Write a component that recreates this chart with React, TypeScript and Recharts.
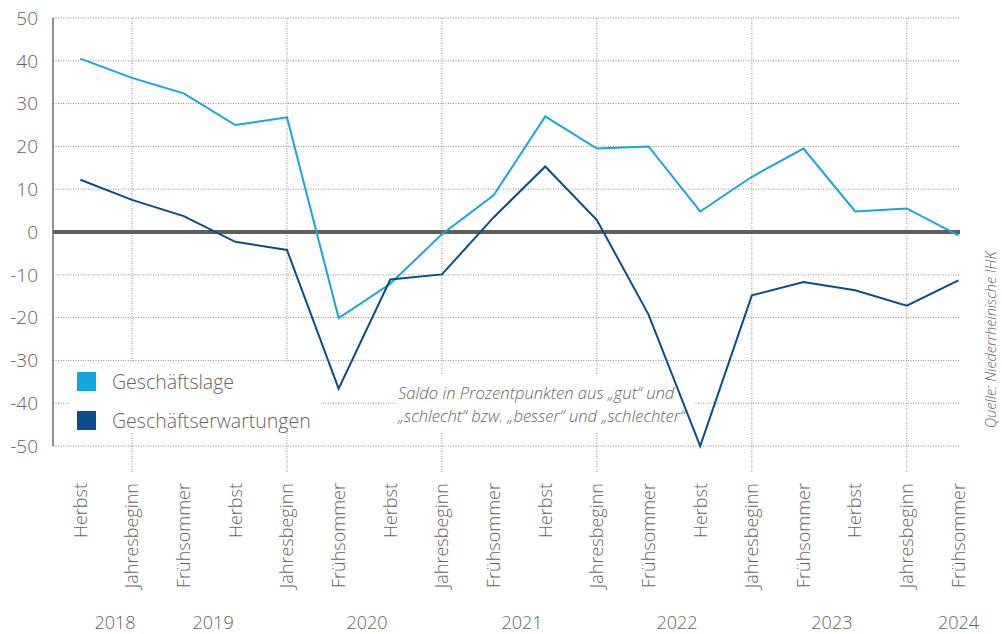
import { CartesianGrid, Legend, Line, LineChart, ReferenceArea, ReferenceLine, XAxis, YAxis } from 'recharts'

// Umfragezeitpunkte (Herbst 2018 bis Frühsommer 2024)
const periods = [
  'Herbst', 'Jahresbeginn', 'Frühsommer',
  'Herbst', 'Jahresbeginn', 'Frühsommer',
  'Herbst', 'Jahresbeginn', 'Frühsommer',
  'Herbst', 'Jahresbeginn', 'Frühsommer',
  'Herbst', 'Jahresbeginn', 'Frühsommer',
  'Herbst', 'Jahresbeginn', 'Frühsommer',
]
const lage = [40.5, 36, 32.4, 25, 26.8, -20.1, -12.1, -0.5, 8.6, 27, 19.5, 20, 4.8, 12.9, 19.5, 4.8, 5.5, -0.8]
const erwartungen = [12.2, 7.5, 3.7, -2.3, -4.2, -36.6, -11.1, -9.9, 3.4, 15.3, 2.8, -19.3, -50, -14.8, -11.7, -13.6, -17.2, -11.3]
const seriesNames = ['Geschäftslage', 'Geschäftserwartungen']
const years = ['2018', '2019', '2020', '2021', '2022', '2023', '2024']
const yearTicks = [0.67, 2.57, 5.55, 8.55, 11.55, 14.55, 17]
const yTicks = [-50, -40, -30, -20, -10, 0, 10, 20, 30, 40, 50]

const LIGHT = '#13a8dd'
const DARK = '#0b4d8a'
const TEXT = '#646464'
const GRID = '#8c8c8c'
const FONT = "'Open Sans', 'Noto Sans', sans-serif"

const data = periods.map((period, i) => ({ idx: i, period, lage: lage[i], erwartungen: erwartungen[i] }))
const xDomain: [number, number] = [-0.53, 17.03]
const yearStarts = periods.map((p, i) => (p === 'Jahresbeginn' ? i : -1)).filter((i) => i >= 0)

function PeriodTick({ x, y, payload }: any) {
  const label = periods[payload.value]
  return (
    <g>
      {label === 'Jahresbeginn' && (
        <line x1={x} x2={x} y1={y - 8} y2={y + 18} stroke={GRID} strokeDasharray="1 1.5" />
      )}
      <text
        transform={`translate(${x},${y}) rotate(-90)`}
        x={-29}
        dy="0.35em"
        textAnchor="end"
        fill={TEXT}
        fontSize={18}
      >
        {label}
      </text>
    </g>
  )
}

function LegendBox({ payload }: any) {
  const items = [...(payload || [])].sort(
    (a: any, b: any) => seriesNames.indexOf(a.value) - seriesNames.indexOf(b.value),
  )
  return (
    <div style={{ position: 'relative', width: '100%', height: '100%' }}>
      {items.map((item: any, i: number) => (
        <div
          key={item.value}
          style={{ position: 'absolute', left: 7, top: 9 + i * 39, height: 20, display: 'flex', alignItems: 'center' }}
        >
          <span style={{ width: 19, height: 19, background: item.color, display: 'inline-block' }} />
          <span style={{ marginLeft: 16, fontSize: 19.5, color: TEXT, whiteSpace: 'nowrap' }}>{item.value}</span>
        </div>
      ))}
    </div>
  )
}

function NoteBox(p: any) {
  return (
    <g>
      <rect x={p.x} y={p.y} width={p.width} height={p.height} fill="#fff" />
      <text x={p.x + 1} y={p.y + 24} fill={TEXT} fontSize={16.6} fontStyle="italic">
        Saldo in Prozentpunkten aus „gut“ und
      </text>
      <text x={p.x + 1} y={p.y + 47} fill={TEXT} fontSize={16.6} fontStyle="italic">
        „schlecht“ bzw. „besser“ und „schlechter“
      </text>
    </g>
  )
}

function yearGridLines({ xAxis, offset }: any) {
  if (xAxis && typeof xAxis.scale === 'function') return yearStarts.map((i) => xAxis.scale(i))
  const [d0, d1] = xDomain
  return yearStarts.map((i) => offset.left + ((i - d0) / (d1 - d0)) * offset.width)
}

export default function App() {
  return (
    <div
      style={{
        position: 'absolute', left: 0, top: 0, width: 1002, height: 634, background: '#fff',
        fontFamily: FONT, fontWeight: 300,
      }}
    >
      <LineChart width={1002} height={634} data={data} margin={{ top: 18, right: 42, bottom: 0, left: 0 }}>
        <CartesianGrid stroke={GRID} strokeDasharray="1 1.5" verticalCoordinatesGenerator={yearGridLines} />
        <XAxis
          dataKey="idx"
          type="number"
          domain={xDomain}
          ticks={periods.map((_, i) => i)}
          interval={0}
          height={150}
          axisLine={false}
          tickLine={false}
          tickSize={0}
          tickMargin={8}
          tick={<PeriodTick />}
        />
        <XAxis
          xAxisId="year"
          dataKey="idx"
          type="number"
          domain={xDomain}
          ticks={yearTicks}
          interval={0}
          height={38}
          axisLine={false}
          tickLine={false}
          tickSize={0}
          tickMargin={20}
          tickFormatter={(v: number) => years[yearTicks.indexOf(v)]}
          tick={{ fill: TEXT, fontSize: 18 }}
        />
        <YAxis
          domain={[-50, 50]}
          ticks={yTicks}
          interval={0}
          width={53}
          axisLine={{ stroke: '#6a6a6a', strokeWidth: 1.5 }}
          tickLine={false}
          tickSize={0}
          tickMargin={15}
          tick={{ fill: TEXT, fontSize: 19 }}
        />
        <ReferenceArea x1={6.13} x2={11.9} y1={-33.5} y2={-46.6} shape={(p: any) => <NoteBox {...p} />} />
        <ReferenceLine y={0} stroke="#5f5f5f" strokeWidth={4} />
        <Line
          name={seriesNames[0]}
          dataKey="lage"
          type="linear"
          stroke={LIGHT}
          strokeWidth={2}
          dot={false}
          isAnimationActive={false}
        />
        <Line
          name={seriesNames[1]}
          dataKey="erwartungen"
          type="linear"
          stroke={DARK}
          strokeWidth={2}
          dot={false}
          isAnimationActive={false}
        />
        <Legend
          layout="vertical"
          align="center"
          verticalAlign="middle"
          content={<LegendBox />}
          wrapperStyle={{ position: 'absolute', left: 70, top: 362, width: 251, height: 70, background: '#fff' }}
        />
      </LineChart>
      <div
        style={{
          position: 'absolute', left: 990, top: 340, transform: 'translate(-50%, -50%) rotate(-90deg)',
          whiteSpace: 'nowrap', fontSize: 14.5, fontStyle: 'italic', color: TEXT,
        }}
      >
        Quelle: Niederrheinische IHK
      </div>
    </div>
  )
}
